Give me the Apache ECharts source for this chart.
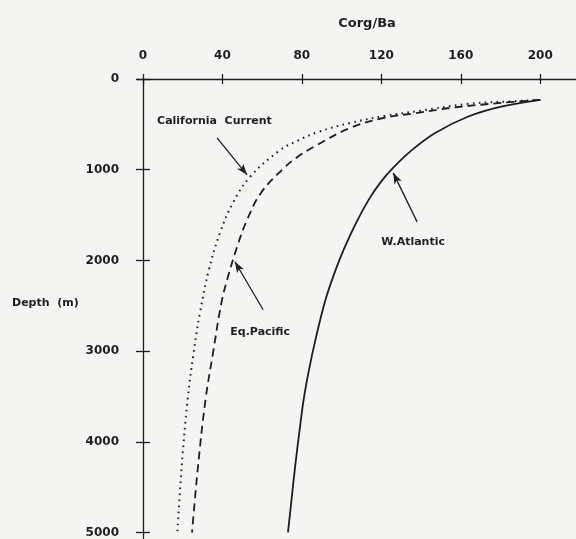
<!DOCTYPE html>
<html>
<head>
<meta charset="utf-8">
<script src="https://cdn.jsdelivr.net/npm/echarts@6/dist/echarts.min.js"></script>
<style>
  html, body { margin: 0; padding: 0; background: #f4f4f2; }
  #mychart { width: 576px; height: 539px; }
</style>
</head>
<body>
<div id="mychart"></div>
<script>
// Corg/Ba ratio vs depth (m)
const atlanticRatio = [200, 179.8, 163.2, 147.1, 135.5, 125.9, 119.4, 113.6, 107.3, 101, 97, 91.9, 87.2, 83.6, 80.9, 78.7, 76.6, 74.8, 73]
const atlanticDepth = [231, 308, 419, 595, 782, 980, 1145, 1333, 1586, 1883, 2104, 2434, 2841, 3205, 3535, 3899, 4273, 4637, 5000]

const pacificRatio = [200, 180, 154.7, 138, 121, 104.3, 87.7, 77.1, 70, 59.4, 52.4, 47.4, 42.8, 39.5, 35.3, 31.5, 27.7, 24.7]
const pacificDepth = [231, 264, 319, 374, 430, 540, 727, 870, 1002, 1256, 1553, 1850, 2181, 2467, 3018, 3535, 4273, 5000]

const californiaRatio = [200, 180, 163.2, 139, 121.9, 104.3, 88.2, 77.6, 68.5, 53.9, 45.3, 38.8, 33.2, 28.7, 25.5, 22.5, 19.5, 17.3]
const californiaDepth = [231, 252, 275, 352, 407, 485, 584, 683, 793, 1079, 1366, 1696, 2103, 2577, 3018, 3535, 4273, 5000]

const xTicks = [0, 40, 80, 120, 160, 200]
const yTicks = [0, 1000, 2000, 3000, 4000, 5000]

// annotation arrows: [tail, tip] in data units, and label anchors
const arrowCalifornia = [[37.3, 650], [52.4, 1057]]
const arrowPacific = [[60.5, 2544], [46.3, 2015]]
const arrowAtlantic = [[138, 1575], [126, 1035]]
const labelCalifornia = [36, 463]
const labelPacific = [59, 2786]
const labelAtlantic = [136, 1795]

const ink = '#1e1e1e'
const font = 'DejaVu Sans'

function pairs (xs, ys) {
  return xs.map((x, i) => [x, ys[i]])
}

function arrow (seg) {
  return {
    silent: true,
    symbol: ['none', 'arrow'],
    symbolSize: [6, 11],
    label: { show: false },
    lineStyle: { color: ink, width: 1.3, type: 'solid' },
    data: [[{ coord: seg[0] }, { coord: seg[1] }]]
  }
}

function tag (text, pos) {
  return {
    silent: true,
    symbol: 'circle',
    symbolSize: 1,
    itemStyle: { color: 'rgba(0,0,0,0)' },
    label: {
      show: true,
      position: 'inside',
      formatter: text,
      color: ink,
      fontFamily: font,
      fontWeight: 'bold',
      fontSize: 11
    },
    data: [{ coord: pos }]
  }
}

let myChart = echarts.init(document.getElementById('mychart'))
myChart.setOption({
  backgroundColor: '#f4f4f2',
  animation: false,
  title: {
    text: 'Corg/Ba',
    left: 362,
    top: 12,
    textAlign: 'center',
    textStyle: { color: ink, fontFamily: font, fontWeight: 'bold', fontSize: 13 }
  },
  graphic: [{
    type: 'text',
    left: 12,
    top: 298,
    style: { text: 'Depth  (m)', fill: ink, font: 'bold 11px "DejaVu Sans"' }
  }],
  grid: { left: 137, right: 0, top: 79, bottom: 0, containLabel: false },
  xAxis: [
    {
      type: 'value',
      position: 'top',
      min: -3,
      max: 218,
      splitLine: { show: false },
      axisLine: { show: true, lineStyle: { color: ink, width: 1.3 } },
      axisTick: { show: true, inside: false, length: 5, customValues: xTicks, lineStyle: { color: ink, width: 1.3 } },
      axisLabel: { customValues: xTicks, margin: 17, color: ink, fontFamily: font, fontWeight: 'bold', fontSize: 12 }
    },
    {
      // sits on the same line (zero depth), ticks point into the plot
      type: 'value',
      position: 'bottom',
      min: -3,
      max: 218,
      splitLine: { show: false },
      axisLine: { show: false, onZero: true },
      axisTick: { show: true, inside: false, length: 5, customValues: xTicks, lineStyle: { color: ink, width: 1.3 } },
      axisLabel: { show: false }
    }
  ],
  yAxis: [
    {
      type: 'value',
      inverse: true,
      min: 0,
      max: 5066,
      splitLine: { show: false },
      axisLine: { show: true, onZero: true, lineStyle: { color: ink, width: 1.3 } },
      axisTick: { show: true, inside: false, length: 7, customValues: yTicks, lineStyle: { color: ink, width: 1.3 } },
      axisLabel: {
        customValues: yTicks,
        margin: 18,
        color: ink,
        fontFamily: font,
        fontWeight: 'bold',
        fontSize: 12,
        formatter: (v) => String(v)
      }
    },
    {
      type: 'value',
      position: 'right',
      inverse: true,
      min: 0,
      max: 5066,
      splitLine: { show: false },
      axisLine: { show: false, onZero: true },
      axisTick: { show: true, inside: false, length: 7, customValues: yTicks, lineStyle: { color: ink, width: 1.3 } },
      axisLabel: { show: false }
    }
  ],
  series: [
    {
      name: 'W.Atlantic',
      type: 'line',
      smooth: 0.4,
      symbol: 'none',
      lineStyle: { color: ink, width: 1.8, type: 'solid' },
      data: pairs(atlanticRatio, atlanticDepth),
      markLine: arrow(arrowAtlantic),
      markPoint: tag('W.Atlantic', labelAtlantic)
    },
    {
      name: 'Eq.Pacific',
      type: 'line',
      smooth: 0.4,
      symbol: 'none',
      lineStyle: { color: ink, width: 1.8, type: [8, 5] },
      data: pairs(pacificRatio, pacificDepth),
      markLine: arrow(arrowPacific),
      markPoint: tag('Eq.Pacific', labelPacific)
    },
    {
      name: 'California Current',
      type: 'line',
      smooth: 0.4,
      symbol: 'none',
      lineStyle: { color: ink, width: 2, type: [1.6, 4.4] },
      data: pairs(californiaRatio, californiaDepth),
      markLine: arrow(arrowCalifornia),
      markPoint: tag('California  Current', labelCalifornia)
    }
  ]
})
</script>
</body>
</html>
